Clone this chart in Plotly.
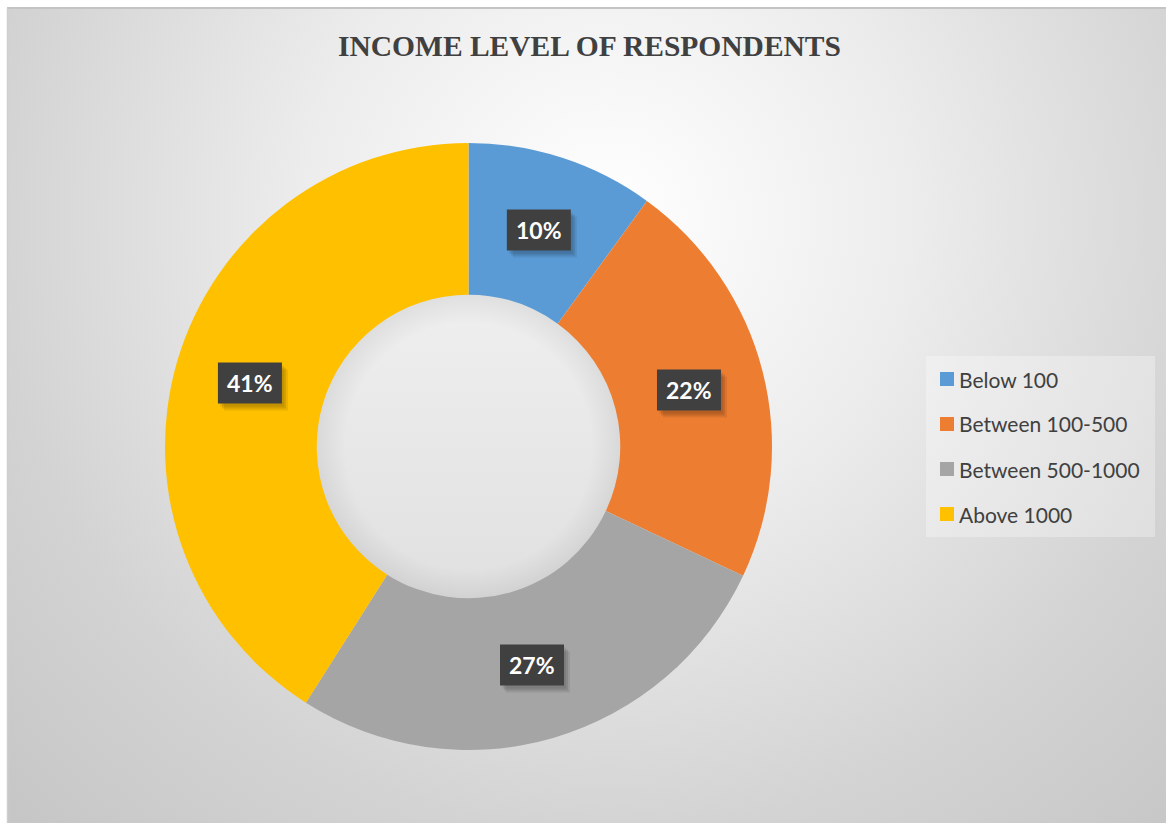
import base64
import math
import plotly.graph_objects as go

# Income groups and share of respondents (%)
categories = ["Below 100", "Between 100-500", "Between 500-1000", "Above 1000"]
shares = [10, 22, 27, 41]
colors = ["#5B9BD5", "#ED7D31", "#A5A5A5", "#FFC000"]
title_text = "INCOME LEVEL OF RESPONDENTS"

W, H = 1166, 823

# Donut geometry (pixels)
cx, cy, R = 468.5, 446.5, 303.5
hole = 0.5

dom_x = [(cx - R) / W, (cx + R) / W]
dom_y = [1 - (cy + R) / H, 1 - (cy - R) / H]


def px_x(x):
    return x / W


def px_y(y):
    return 1 - y / H


def svg_uri(svg):
    return "data:image/svg+xml;base64," + base64.b64encode(svg.encode()).decode()


fig = go.Figure()
fig.add_trace(go.Pie(
    labels=categories,
    values=shares,
    hole=hole,
    sort=False,
    direction="clockwise",
    rotation=0,
    marker=dict(colors=colors, line=dict(width=0)),
    textinfo="none",
    showlegend=False,
    domain=dict(x=dom_x, y=dom_y),
))

# Chart-area background: soft radial gradient
bw, bh = W - 8, H - 8
bg_svg = f'''<svg xmlns="http://www.w3.org/2000/svg" width="{bw}" height="{bh}" viewBox="0 0 {bw} {bh}">
<defs><radialGradient id="g" gradientUnits="userSpaceOnUse" cx="600" cy="210" r="880">
<stop offset="0" stop-color="#ffffff"/>
<stop offset="0.35" stop-color="#ececec"/>
<stop offset="0.7" stop-color="#d3d3d3"/>
<stop offset="1" stop-color="#c4c4c4"/>
</radialGradient></defs>
<rect x="0" y="0" width="{bw}" height="{bh}" fill="url(#g)"/>
</svg>'''

# Shaded disc showing through the donut hole
hr = R * hole + 2
hd = 2 * hr
hole_svg = f'''<svg xmlns="http://www.w3.org/2000/svg" width="{hd:.0f}" height="{hd:.0f}" viewBox="0 0 {hd:.1f} {hd:.1f}">
<defs>
<linearGradient id="l" x1="0" y1="0" x2="0" y2="1">
<stop offset="0" stop-color="#efefef"/>
<stop offset="1" stop-color="#e0e0e0"/>
</linearGradient>
<radialGradient id="r" cx="0.5" cy="0.5" r="0.5">
<stop offset="0.8" stop-color="#000000" stop-opacity="0"/>
<stop offset="1" stop-color="#000000" stop-opacity="0.07"/>
</radialGradient>
</defs>
<circle cx="{hr:.1f}" cy="{hr:.1f}" r="{hr:.1f}" fill="url(#l)"/>
<circle cx="{hr:.1f}" cy="{hr:.1f}" r="{hr:.1f}" fill="url(#r)"/>
</svg>'''

shapes = [
    dict(type="line", xref="paper", yref="paper", x0=px_x(7), x1=1, y0=px_y(8), y1=px_y(8),
         line=dict(color="#c4c4c4", width=2)),
    dict(type="line", xref="paper", yref="paper", x0=px_x(7.5), x1=px_x(7.5), y0=px_y(8), y1=0,
         line=dict(color="#cfcfcf", width=1.5)),
]

annotations = []


def px_rect(x0, y0, x1, y1, fill):
    return dict(type="rect", xref="paper", yref="paper",
                x0=px_x(x0), x1=px_x(x1), y0=px_y(y1), y1=px_y(y0),
                fillcolor=fill, line=dict(width=0))


# Percentage labels in dark boxes at ring mid-radius
total = sum(shares)
r_mid = R * (1 + hole) / 2
bwid, bhgt = 64, 41
cum = 0
for v in shares:
    mid = (cum + v / 2) / total * 2 * math.pi
    cum += v
    lx = cx + r_mid * math.sin(mid)
    ly = cy - r_mid * math.cos(mid)
    # soft drop shadow
    for dx, dy, a in [(2, 3, 0.08), (4, 5, 0.10), (6, 7, 0.08)]:
        shapes.append(px_rect(lx - bwid / 2 + dx, ly - bhgt / 2 + dy,
                              lx + bwid / 2 + dx, ly + bhgt / 2 + dy, f"rgba(0,0,0,{a})"))
    shapes.append(px_rect(lx - bwid / 2, ly - bhgt / 2, lx + bwid / 2, ly + bhgt / 2, "#404040"))
    annotations.append(dict(
        x=px_x(lx), y=px_y(ly), xref="paper", yref="paper", showarrow=False,
        xanchor="center", yanchor="middle",
        text=f"<b>{v}%</b>", font=dict(family="Lato", size=23, color="#ffffff"),
    ))

# Legend panel
shapes.append(dict(type="rect", xref="paper", yref="paper",
                   x0=px_x(926), x1=px_x(1155), y0=px_y(537), y1=px_y(356),
                   fillcolor="rgba(255,255,255,0.3)", line=dict(width=0), layer="below"))
leg_y0, leg_dy = 379, 45
for i, (name, col) in enumerate(zip(categories, colors)):
    yy = leg_y0 + i * leg_dy
    shapes.append(px_rect(940, yy - 7, 954, yy + 7, col))
    annotations.append(dict(
        x=px_x(957), y=px_y(yy), xref="paper", yref="paper", showarrow=False,
        xanchor="left", yanchor="middle", text=name,
        font=dict(family="Lato", size=21, color="#404040"),
    ))

# Title
annotations.append(dict(
    x=px_x(589.5), y=px_y(46), xref="paper", yref="paper", showarrow=False,
    xanchor="center", yanchor="middle", text=f"<b>{title_text}</b>",
    font=dict(family="Liberation Serif", size=29.5, color="#404040"),
))

fig.update_layout(
    width=W, height=H, autosize=False,
    margin=dict(l=0, r=0, t=0, b=0),
    paper_bgcolor="#ffffff",
    plot_bgcolor="rgba(0,0,0,0)",
    images=[
        dict(source=svg_uri(bg_svg), xref="paper", yref="paper", x=px_x(8), y=px_y(8),
             sizex=bw / W, sizey=bh / H, sizing="stretch", layer="below",
             xanchor="left", yanchor="top"),
        dict(source=svg_uri(hole_svg), xref="paper", yref="paper",
             x=px_x(cx), y=px_y(cy), sizex=hd / W, sizey=hd / H, sizing="stretch",
             layer="below", xanchor="center", yanchor="middle"),
    ],
    shapes=shapes,
    annotations=annotations,
    showlegend=False,
)

fig.write_html("out.html")
